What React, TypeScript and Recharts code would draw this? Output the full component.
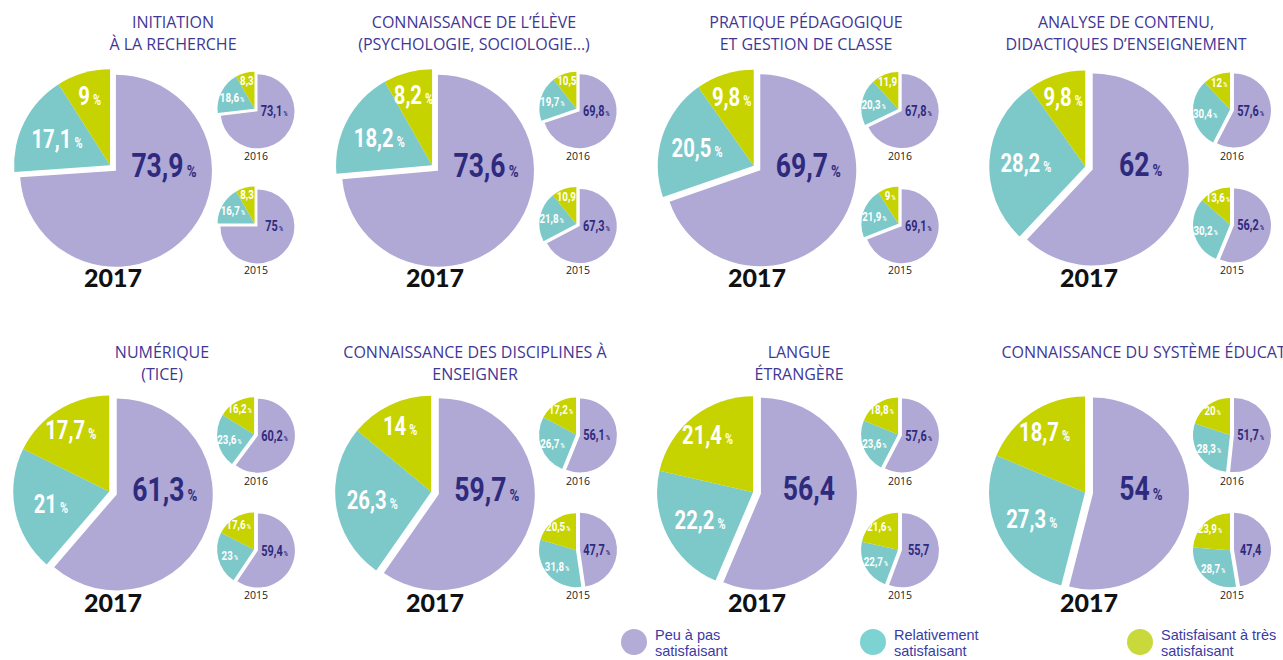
import React from 'react';
import { PieChart, Pie, Cell } from 'recharts';

// legend categories, in the clockwise order of the slices
const categories = ['Peu à pas satisfaisant', 'Relativement satisfaisant', 'Satisfaisant à très satisfaisant'];
const legendLines = [['Peu à pas', 'satisfaisant'], ['Relativement', 'satisfaisant'], ['Satisfaisant à très', 'satisfaisant']];

const titles = [
  ['INITIATION', 'À LA RECHERCHE'],
  ['CONNAISSANCE DE L’ÉLÈVE', '(PSYCHOLOGIE, SOCIOLOGIE…)'],
  ['PRATIQUE PÉDAGOGIQUE', 'ET GESTION DE CLASSE'],
  ['ANALYSE DE CONTENU,', 'DIDACTIQUES D’ENSEIGNEMENT'],
  ['NUMÉRIQUE', '(TICE)'],
  ['CONNAISSANCE DES DISCIPLINES À', 'ENSEIGNER'],
  ['LANGUE', 'ÉTRANGÈRE'],
  ['CONNAISSANCE DU SYSTÈME ÉDUCATIF'],
];

const values2017 = [
  [73.9, 17.1, 9],
  [73.6, 18.2, 8.2],
  [69.7, 20.5, 9.8],
  [62, 28.2, 9.8],
  [61.3, 21, 17.7],
  [59.7, 26.3, 14],
  [56.4, 22.2, 21.4],
  [54, 27.3, 18.7],
];

const values2016 = [
  [73.1, 18.6, 8.3],
  [69.8, 19.7, 10.5],
  [67.8, 20.3, 11.9],
  [57.6, 30.4, 12],
  [60.2, 23.6, 16.2],
  [56.1, 26.7, 17.2],
  [57.6, 23.6, 18.8],
  [51.7, 28.3, 20],
];

const values2015 = [
  [75, 16.7, 8.3],
  [67.3, 21.8, 10.9],
  [69.1, 21.9, 9],
  [56.2, 30.2, 13.6],
  [59.4, 23, 17.6],
  [47.7, 31.8, 20.5],
  [55.7, 22.7, 21.6],
  [47.4, 28.7, 23.9],
];

// labels printed without the "%" sign (panel-year-slice)
const noPct = ['0-2016-2', '0-2015-2', '1-2016-2', '1-2015-2', '2-2016-2', '6-2017-0', '6-2015-0', '7-2015-0'];

const COLORS = ['#b0a8d5', '#7dc8c9', '#c6d300'];
const LEGEND_COLORS = ['#b2acd6', '#7dd3d2', '#c9d93b'];
const DARK = '#2e2a7d';
const TITLE = '#3f3795';

const W = 1283;
const H = 660;
const colX = [0, 322, 644, 976];
const titleX = [173, 152, 162, 150, 162, 153, 155, 174];
const RAD = Math.PI / 180;

const fmt = (v: number) => String(v).replace('.', ',');

function makePies(key: string, values: number[], cx: number, cy: number, r: number, big: boolean) {
  const data = values.map((v, i) => ({ name: categories[i], value: v }));
  const total = values.reduce((a, b) => a + b, 0);
  const mid0 = (90 - (180 * values[0]) / total) * RAD;
  const gap = big ? 8 : 4;
  const dx = (Math.cos(mid0) * gap) / 2;
  const dy = (-Math.sin(mid0) * gap) / 2;

  const renderLabel = (part: 'a' | 'b') => (p: any) => {
    const i = p.index;
    if (part === 'a' && i !== 0) return null;
    if (part === 'b' && i === 0) return null;
    const R = p.outerRadius;
    let x: number;
    let y: number;
    if (i === 0) {
      x = p.cx + (big ? 0.5 : 0.45) * R;
      y = p.cy - (big ? 0.06 : 0) * R;
    } else {
      const k = i === 1 ? (big ? 0.62 : 0.68) : big ? 0.76 : 0.8;
      const a = -p.midAngle * RAD;
      x = p.cx + k * R * Math.cos(a);
      y = p.cy + k * R * Math.sin(a);
    }
    const fs = i === 0 ? (big ? 34 : 14) : big ? 26 : 12.5;
    const ps = big ? (i === 0 ? 17 : 14) : 7;
    const showPct = !noPct.includes(`${key}-${i}`);
    return (
      <g key={`l-${key}-${i}`} transform={`translate(${x},${y}) scale(0.78,1)`}>
        <text
          x={0}
          y={fs * 0.36}
          textAnchor="middle"
          fontFamily="Roboto, sans-serif"
          fontWeight={700}
          fontSize={fs}
          fill={i === 0 ? DARK : '#ffffff'}
        >
          {fmt(p.value)}
          {showPct && (
            <tspan fontSize={ps} dx={big ? 4 : 1.5}>
              %
            </tspan>
          )}
        </text>
      </g>
    );
  };

  return [
    <Pie
      key={`${key}-a`}
      data={data}
      dataKey="value"
      cx={cx + dx}
      cy={cy + dy}
      outerRadius={r}
      startAngle={90}
      endAngle={-270}
      stroke="none"
      labelLine={false}
      label={renderLabel('a')}
      isAnimationActive={false}
    >
      {data.map((d, i) => (
        <Cell key={i} fill={i === 0 ? COLORS[0] : 'none'} stroke="none" />
      ))}
    </Pie>,
    <Pie
      key={`${key}-b`}
      data={data}
      dataKey="value"
      cx={cx - dx}
      cy={cy - dy}
      outerRadius={r}
      startAngle={90}
      endAngle={-270}
      stroke="none"
      labelLine={false}
      label={renderLabel('b')}
      isAnimationActive={false}
    >
      {data.map((d, i) => (
        <Cell key={i} fill={i === 0 ? 'none' : COLORS[i]} stroke="none" />
      ))}
    </Pie>,
  ];
}

const App: React.FC = () => {
  const pies: any[] = [];
  const overlays: any[] = [];

  titles.forEach((t, p) => {
    const row = Math.floor(p / 4);
    const ox = colX[p % 4];
    const oy = row * 325;
    pies.push(...makePies(`${p}-2017`, values2017[p], ox + 113, oy + 168, 96, true));
    pies.push(...makePies(`${p}-2016`, values2016[p], ox + 256, oy + 110, 37, false));
    pies.push(...makePies(`${p}-2015`, values2015[p], ox + 256, oy + 225, 37, false));

    const ty = row === 0 ? 11 : 341;
    overlays.push(
      <div
        key={`t-${p}`}
        style={{
          position: 'absolute',
          left: ox + titleX[p] - 250,
          top: ty,
          width: 500,
          textAlign: 'center',
          fontFamily: '"Open Sans", sans-serif',
          fontSize: 16,
          lineHeight: '22px',
          color: TITLE,
          whiteSpace: 'nowrap',
        }}
      >
        {t.map((line, j) => (
          <div key={j}>{line}</div>
        ))}
      </div>
    );
    overlays.push(
      <div
        key={`y17-${p}`}
        style={{
          position: 'absolute',
          left: ox + 113 - 50,
          top: oy + 277 - 15,
          width: 100,
          textAlign: 'center',
          fontFamily: 'Lato, sans-serif',
          fontWeight: 900,
          fontSize: 25,
          lineHeight: '30px',
          color: '#111',
        }}
      >
        2017
      </div>
    );
    [
      ['2016', oy + 156],
      ['2015', oy + 270],
    ].forEach(([label, y]) => {
      overlays.push(
        <div
          key={`y-${p}-${label}`}
          style={{
            position: 'absolute',
            left: ox + 256 - 30,
            top: (y as number) - 7,
            width: 60,
            textAlign: 'center',
            fontFamily: '"Open Sans", sans-serif',
            fontSize: 10.5,
            lineHeight: '14px',
            color: '#222',
          }}
        >
          {label}
        </div>
      );
    });
  });

  const legendX = [634, 873, 1140];

  return (
    <div
      style={{
        position: 'absolute',
        left: 0,
        top: 0,
        width: W,
        height: H,
        overflow: 'hidden',
        background: '#fff',
      }}
    >
      <PieChart width={W} height={H} margin={{ top: 0, right: 0, bottom: 0, left: 0 }}>
        {pies}
      </PieChart>
      {overlays}
      {legendLines.map((lines, i) => (
        <React.Fragment key={`lg-${i}`}>
          <div
            style={{
              position: 'absolute',
              left: legendX[i] - 13,
              top: 642 - 13,
              width: 26,
              height: 26,
              borderRadius: '50%',
              background: LEGEND_COLORS[i],
            }}
          />
          <div
            style={{
              position: 'absolute',
              left: legendX[i] + 21,
              top: 627,
              fontFamily: '"Liberation Sans", Arial, sans-serif',
              fontSize: 14.5,
              lineHeight: '16px',
              color: '#3b3aa5',
              whiteSpace: 'nowrap',
            }}
          >
            {lines.map((l, j) => (
              <div key={j}>{l}</div>
            ))}
          </div>
        </React.Fragment>
      ))}
    </div>
  );
};

export default App;
